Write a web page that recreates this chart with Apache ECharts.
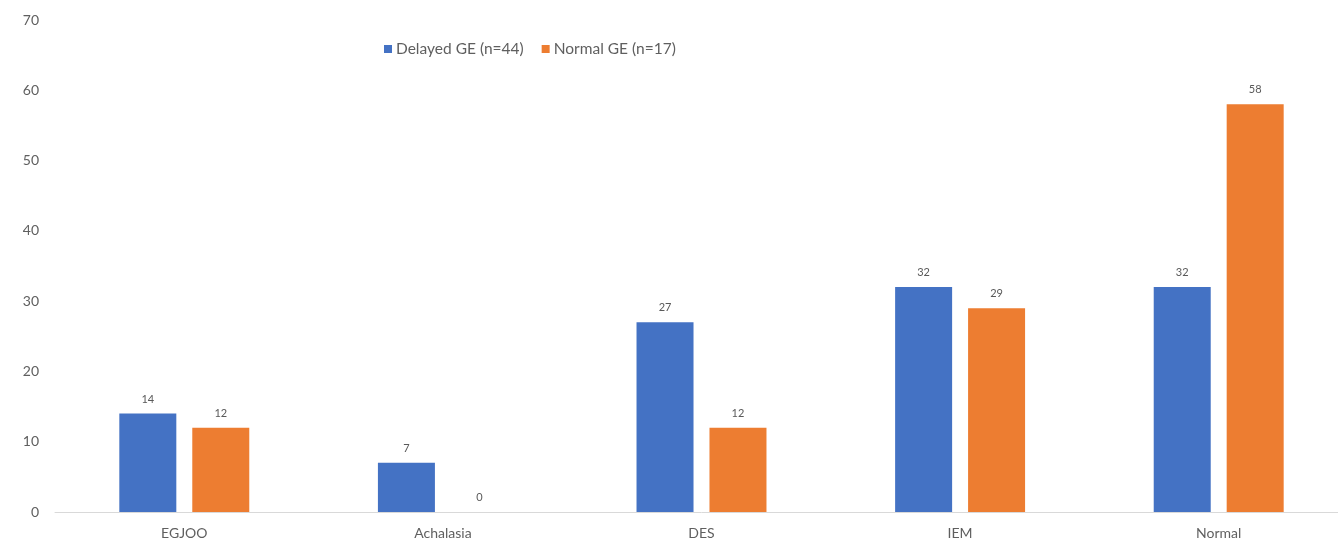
<!DOCTYPE html>
<html>
<head>
<meta charset="utf-8">
<script src="https://cdn.jsdelivr.net/npm/echarts@6/dist/echarts.min.js"></script>
<style>html,body{margin:0;padding:0;background:#fff;overflow:hidden}#c{width:1348px;height:547px}</style>
</head>
<body>
<div id="c"></div>
<script>
const categories = ['EGJOO', 'Achalasia', 'DES', 'IEM', 'Normal'];
const delayedGE = [14, 7, 27, 32, 32];
const normalGE = [12, 0, 12, 29, 58];
const seriesNames = ['Delayed GE (n=44)', 'Normal GE (n=17)'];

const chart = echarts.init(document.getElementById('c'));
const font = 'Lato, "Open Sans", sans-serif';
const lbl = {show: true, position: 'top', distance: 9, color: '#595959', fontSize: 11, fontFamily: font};
chart.setOption({
  animation: false,
  legend: {
    left: 379, top: 36, itemWidth: 8, itemHeight: 8, itemGap: 18, icon: 'rect',
    textStyle: {color: '#5f5f5f', fontSize: 15.5, fontFamily: font, padding: [0, 0, 0, -1]},
    data: seriesNames
  },
  grid: {left: 55, right: 0, top: 20, bottom: 35, containLabel: false},
  xAxis: {
    type: 'category', data: categories,
    axisLine: {lineStyle: {color: '#d9d9d9', width: 1}},
    axisTick: {show: false},
    axisLabel: {color: '#5f5f5f', fontSize: 14, fontFamily: font, margin: 14}
  },
  yAxis: {
    type: 'value', min: 0, max: 70, interval: 10,
    axisLine: {show: false}, axisTick: {show: false},
    splitLine: {show: false},
    axisLabel: {color: '#5f5f5f', fontSize: 14, fontFamily: font, margin: 16}
  },
  series: [
    {name: seriesNames[0], type: 'bar', data: delayedGE, barWidth: 57, barGap: '28%',
     itemStyle: {color: '#4472C4'}, label: lbl},
    {name: seriesNames[1], type: 'bar', data: normalGE, barWidth: 57,
     itemStyle: {color: '#ED7D31'}, label: lbl}
  ]
});
</script>
</body>
</html>
